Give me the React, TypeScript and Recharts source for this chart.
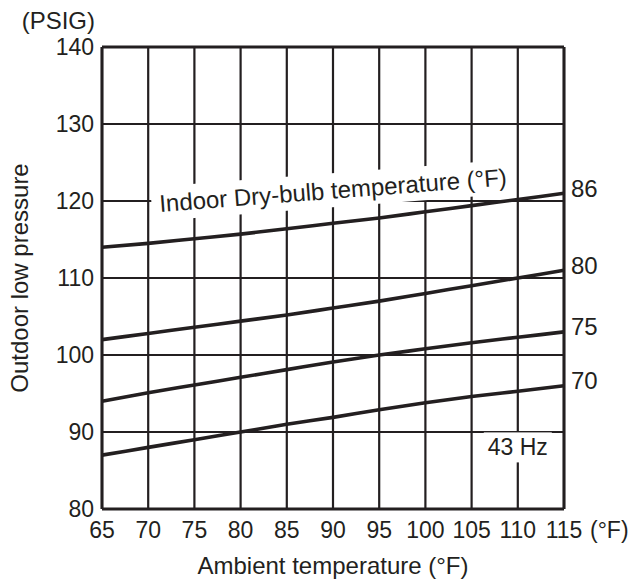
import React from "react";
import {
  CartesianGrid,
  Line,
  LineChart,
  ReferenceDot,
  ReferenceLine,
  XAxis,
  YAxis,
} from "recharts";

// ambient temperature (°F)
const ambient = [65, 70, 75, 80, 85, 90, 95, 100, 105, 110, 115];
// outdoor low pressure (PSIG) per indoor dry-bulb temperature
const db86 = [114, 114.5, 115.1, 115.7, 116.4, 117.1, 117.8, 118.6, 119.4, 120.2, 121];
const db80 = [102, 102.8, 103.6, 104.4, 105.2, 106.1, 107, 108, 109, 110, 111];
const db75 = [94, 95.1, 96.1, 97.1, 98.1, 99.1, 100, 100.8, 101.6, 102.3, 103];
const db70 = [87, 88, 89, 90, 91, 91.9, 92.9, 93.8, 94.6, 95.3, 96];
const pressureTicks = [80, 90, 100, 110, 120, 130, 140];

const series = [
  { key: "d86", label: "86", values: db86 },
  { key: "d80", label: "80", values: db80 },
  { key: "d75", label: "75", values: db75 },
  { key: "d70", label: "70", values: db70 },
];

const data = ambient.map((t, i) => {
  const row: Record<string, number> = { t };
  series.forEach((s) => (row[s.key] = s.values[i]));
  return row;
});

const INK = "#231f20";
const FONT = "'Liberation Sans', Arial, sans-serif";

const endLabel = (label: string) => (props: any) => {
  const { x, y, index } = props;
  if (index !== ambient.length - 1) return null;
  return (
    <text x={x + 7} y={y - 5} fill={INK} fontSize={24} fontFamily={FONT} dominantBaseline="central">
      {label}
    </text>
  );
};

export default function App() {
  return (
    <div style={{ position: "absolute", left: 0, top: 0, background: "#fff" }}>
      <LineChart
        width={633}
        height={581}
        data={data}
        margin={{ top: 47, right: 69, bottom: 0, left: 0 }}
      >
        <CartesianGrid stroke={INK} strokeWidth={2.2} />
        <XAxis
          dataKey="t"
          type="number"
          domain={[65, 115]}
          ticks={ambient}
          height={72}
          axisLine={{ stroke: INK, strokeWidth: 3 }}
          tickLine={false}
          tick={({ x, payload }: any) => (
            <text x={x} y={530} textAnchor="middle" dominantBaseline="central" fill={INK} fontSize={23} fontFamily={FONT}>
              {payload.value}
            </text>
          )}
          label={({ viewBox }: any) => (
            <g>
              <text x={viewBox.x + viewBox.width / 2} y={565} textAnchor="middle" dominantBaseline="central" fill={INK} fontSize={24} fontFamily={FONT}>
                Ambient temperature (°F)
              </text>
              <text x={590} y={530} dominantBaseline="central" fill={INK} fontSize={23} fontFamily={FONT}>
                (°F)
              </text>
            </g>
          )}
        />
        <YAxis
          type="number"
          domain={[80, 140]}
          ticks={pressureTicks}
          width={102}
          axisLine={{ stroke: INK, strokeWidth: 3 }}
          tickLine={false}
          tick={({ y, payload }: any) => (
            <text x={94} y={y} textAnchor="end" dominantBaseline="central" fill={INK} fontSize={23} fontFamily={FONT}>
              {payload.value}
            </text>
          )}
          label={({ viewBox }: any) => {
            const cy = viewBox.y + viewBox.height / 2;
            return (
              <g>
                <text x={95} y={20} textAnchor="end" dominantBaseline="central" fill={INK} fontSize={24} fontFamily={FONT}>
                  (PSIG)
                </text>
                <text x={19} y={cy} transform={`rotate(-90 19 ${cy})`} textAnchor="middle" dominantBaseline="central" fill={INK} fontSize={24} fontFamily={FONT}>
                  Outdoor low pressure
                </text>
              </g>
            );
          }}
        />
        <ReferenceLine y={140} stroke={INK} strokeWidth={3} />
        <ReferenceLine x={115} stroke={INK} strokeWidth={3} />
        <ReferenceDot
          x={90}
          y={121.4}
          r={0}
          shape={({ cx, cy }: any) => (
            <g transform={`rotate(-4.4 ${cx} ${cy})`}>
              <rect x={cx - 182} y={cy - 17} width={364} height={34} fill="#fff" />
              <text x={cx} y={cy} textAnchor="middle" dominantBaseline="central" fill={INK} fontSize={24} fontFamily={FONT}>
                Indoor Dry-bulb temperature (°F)
              </text>
            </g>
          )}
        />
        <ReferenceDot
          x={110}
          y={88}
          r={0}
          shape={({ cx, cy }: any) => (
            <g>
              <rect x={cx - 34} y={cy - 15} width={68} height={30} fill="#fff" />
              <text x={cx} y={cy} textAnchor="middle" dominantBaseline="central" fill={INK} fontSize={23} fontFamily={FONT}>
                43 Hz
              </text>
            </g>
          )}
        />
        {series.map((s) => (
          <Line
            key={s.key}
            dataKey={s.key}
            type="monotone"
            stroke={INK}
            strokeWidth={3.6}
            dot={false}
            isAnimationActive={false}
            label={endLabel(s.label)}
          />
        ))}
      </LineChart>
    </div>
  );
}
